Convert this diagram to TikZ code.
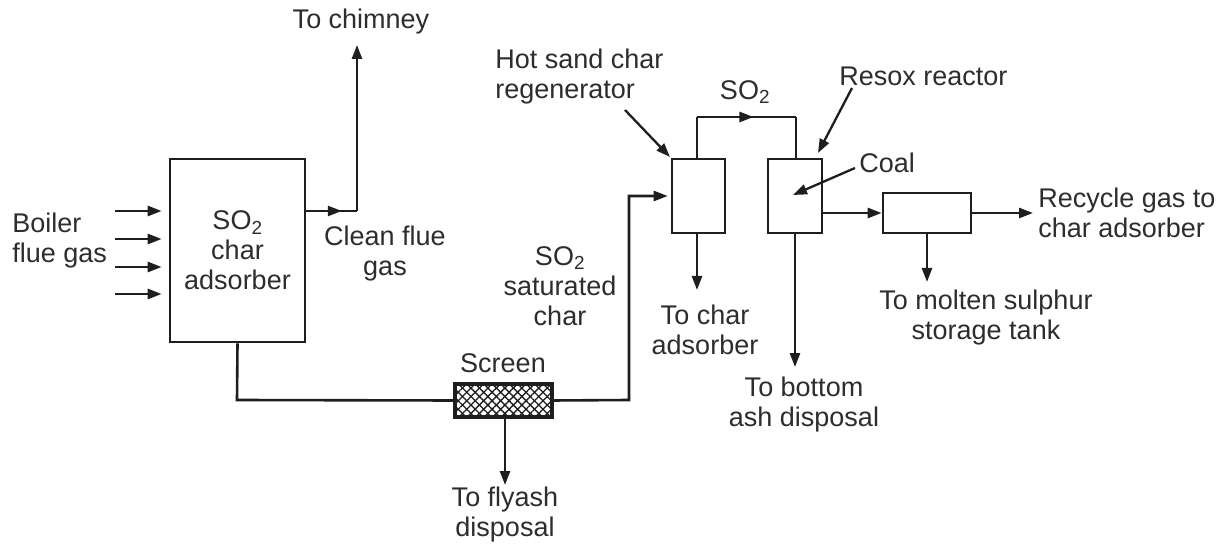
\documentclass[tikz,border=0pt]{standalone}
\usepackage{fontspec}
\setmainfont{Liberation Sans}
\usetikzlibrary{arrows.meta,decorations.markings,patterns.meta}
\definecolor{lc}{RGB}{30,30,30}
\definecolor{tc}{RGB}{45,45,45}
\begin{document}
\begin{tikzpicture}[x=1pt,y=-1pt,line width=2.6pt,draw=lc,
  every node/.style={font=\fontsize{27}{30}\selectfont,text=tc,inner sep=0pt},
  unit/.style={draw=lc,line width=2.6pt,fill=white},
  arr/.style={-{Triangle[length=14pt,width=10pt]}},
  midarr/.style={postaction={decorate},decoration={markings,mark=at position #1 with {\arrow{Triangle[length=14pt,width=10pt]}}}}]
\useasboundingbox (0,0) rectangle (1221,545);
\fill[white] (0,0) rectangle (1221,545);

% units
\node[unit,minimum width=135pt,minimum height=183pt,align=center] (ads) at (237.5,250.5) {SO\textsubscript{2}\\char\\adsorber};
\node[unit,minimum width=95pt,minimum height=31pt] (scr) at (503.5,400.5) {};
\fill[pattern={Lines[angle=45,distance=6pt,line width=1.3pt]},pattern color=lc] (scr.south west) rectangle (scr.north east);
\fill[pattern={Lines[angle=-45,distance=6pt,line width=1.3pt]},pattern color=lc] (scr.south west) rectangle (scr.north east);
\draw (scr.south west) rectangle (scr.north east);
\node[unit,minimum width=53pt,minimum height=74pt] (reg) at (698.5,196) {};
\node[unit,minimum width=54pt,minimum height=74pt] (res) at (795,196) {};
\node[unit,minimum width=88pt,minimum height=40pt] (sep) at (927,213) {};

% labels
\node[anchor=west,align=left] (boiler) at (11,241) {Boiler\\flue gas};
\node[align=center] (clean) at (385,254) {Clean flue\\gas};
\node (chim) at (361,22) {To chimney};
\node (scrlab) at (503,363) {Screen};
\node[align=center] (fly) at (505,515) {To flyash\\disposal};
\node[align=center] (sat) at (560,286) {SO\textsubscript{2}\\saturated\\char};
\node[anchor=west,align=left] (hot) at (494,77) {Hot sand char\\regenerator};
\node (so2) at (745,92) {SO\textsubscript{2}};
\node[anchor=west] (resl) at (838,76) {Resox reactor};
\node[anchor=west] (coal) at (858,163) {Coal};
\node[align=center] (tochar) at (705,330) {To char\\adsorber};
\node[align=center] (ash) at (804,405) {To bottom\\ash disposal};
\node[anchor=west,align=left] (rec) at (1037,213) {Recycle gas to\\char adsorber};
\node[align=center] (molt) at (986,318) {To molten sulphur\\storage tank};

% coordinates
\coordinate (i1) at (115,211);
\coordinate (i2) at (115,239);
\coordinate (i3) at (115,267);
\coordinate (i4) at (115,294);
\coordinate (cbend) at (357,211);
\coordinate (ctop) at (357,45);
\coordinate (bbend) at (237,400);
\coordinate (sbend) at (629,400);
\coordinate (sbend2) at (629,196);
\coordinate (flyend) at (505,485);
\coordinate (rtop) at (697,117);
\coordinate (rtop2) at (796,117);
\coordinate (regout) at (697,290);
\coordinate (resout) at (795,367);
\coordinate (recend) at (1033,213);
\coordinate (moltend) at (927,282);
\coordinate (hotst) at (625,110);
\coordinate (hottip) at (670,157);
\coordinate (resst) at (852,88);
\coordinate (restip) at (818,153);
\coordinate (coalst) at (855,168);
\coordinate (coaltip) at (793,195);

% connectors
\foreach \c in {i1,i2,i3,i4} \draw[arr,shorten >=7pt] (\c) -- (\c -| ads.west);
\draw[midarr=0.7] (ads.east |- cbend) -- (cbend);
\draw[arr] (cbend) -- (ctop);
\draw (ads.south) -- (bbend) -- (scr.west);
\draw[arr,shorten >=3pt] (scr.east) -- (sbend) -- (sbend2) -- (reg.west);
\draw[arr] (scr.south -| flyend) -- (flyend);
\draw (reg.north -| rtop) -- (rtop);
\draw[midarr=0.57] (rtop) -- (rtop2);
\draw (rtop2) -- (res.north -| rtop2);
\draw[arr] (reg.south -| regout) -- (regout);
\draw[arr] (res.south) -- (resout);
\draw[arr] (res.east |- sep.west) -- (sep.west);
\draw[arr] (sep.east) -- (recend);
\draw[arr] (sep.south) -- (moltend);
\draw[arr,line width=2.3pt] (hotst) -- (hottip);
\draw[arr,line width=2.3pt] (resst) -- (restip);
\draw[arr,line width=2.3pt] (coalst) -- (coaltip);
\end{tikzpicture}
\end{document}
